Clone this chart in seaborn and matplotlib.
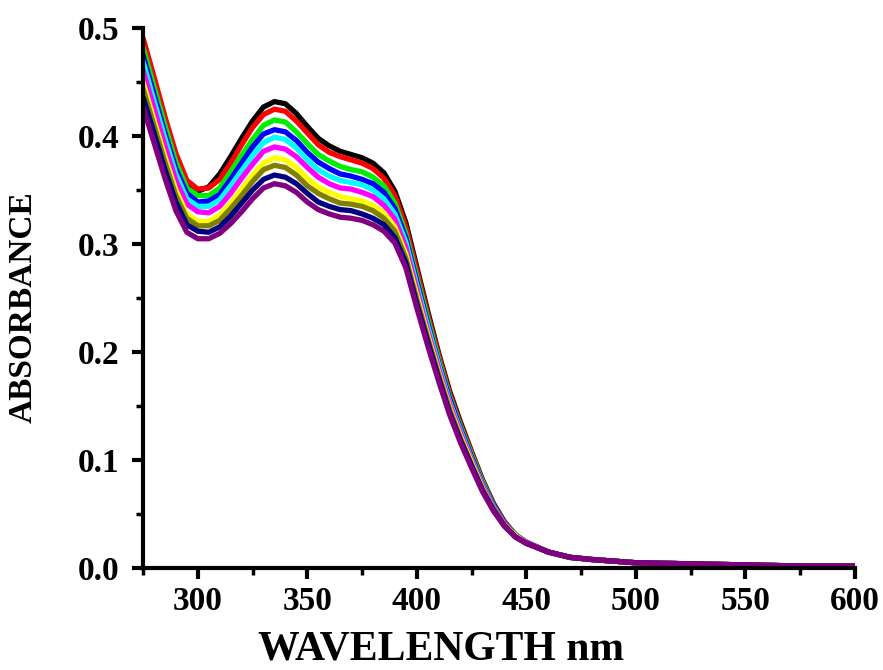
import numpy as np
import pandas as pd
import matplotlib
matplotlib.use("Agg")
import matplotlib.pyplot as plt
from matplotlib.ticker import MultipleLocator
import seaborn as sns

wavelength = [275, 280, 285, 290, 295, 300, 305, 310, 315, 320, 325, 330, 335, 340,
              345, 350, 355, 360, 365, 370, 375, 380, 385, 390, 395, 400, 405, 410,
              415, 420, 425, 430, 435, 440, 445, 450, 460, 470, 480, 500, 525, 550,
              575, 600]

tail = [0.015, 0.010, 0.008, 0.005, 0.004, 0.003, 0.002, 0.002]

s_black = [0.488, 0.452, 0.415, 0.381, 0.357, 0.349, 0.353, 0.365, 0.381, 0.398, 0.414, 0.427,
           0.432, 0.430, 0.421, 0.409, 0.398, 0.391, 0.386, 0.383, 0.380, 0.375, 0.366, 0.349,
           0.320, 0.279, 0.238, 0.199, 0.164, 0.135, 0.108, 0.082, 0.060, 0.043, 0.031, 0.024] + tail
s_red = [0.491, 0.455, 0.418, 0.384, 0.359, 0.351, 0.352, 0.360, 0.375, 0.392, 0.408, 0.420,
         0.425, 0.423, 0.414, 0.403, 0.392, 0.385, 0.381, 0.378, 0.375, 0.370, 0.361, 0.345,
         0.316, 0.276, 0.235, 0.197, 0.162, 0.133, 0.107, 0.081, 0.059, 0.043, 0.031, 0.024] + tail
s_green = [0.482, 0.446, 0.410, 0.376, 0.352, 0.345, 0.345, 0.352, 0.367, 0.382, 0.397, 0.410,
           0.415, 0.413, 0.404, 0.393, 0.383, 0.377, 0.372, 0.369, 0.367, 0.362, 0.354, 0.338,
           0.310, 0.270, 0.231, 0.193, 0.159, 0.131, 0.105, 0.080, 0.058, 0.042, 0.031, 0.024] + tail
s_blue = [0.475, 0.439, 0.403, 0.370, 0.347, 0.339, 0.340, 0.346, 0.360, 0.375, 0.390, 0.402,
          0.406, 0.404, 0.396, 0.385, 0.376, 0.370, 0.365, 0.363, 0.360, 0.356, 0.348, 0.333,
          0.306, 0.266, 0.227, 0.190, 0.157, 0.129, 0.103, 0.078, 0.058, 0.042, 0.030, 0.024] + tail
s_cyan = [0.469, 0.433, 0.398, 0.365, 0.342, 0.335, 0.335, 0.341, 0.354, 0.368, 0.382, 0.394,
          0.399, 0.397, 0.389, 0.378, 0.369, 0.363, 0.359, 0.357, 0.355, 0.350, 0.342, 0.328,
          0.302, 0.262, 0.224, 0.188, 0.154, 0.127, 0.101, 0.077, 0.057, 0.041, 0.030, 0.024] + tail
s_magenta = [0.461, 0.426, 0.391, 0.359, 0.337, 0.330, 0.329, 0.335, 0.347, 0.361, 0.374, 0.386,
             0.390, 0.388, 0.381, 0.371, 0.362, 0.356, 0.352, 0.351, 0.348, 0.344, 0.336, 0.323,
             0.297, 0.258, 0.220, 0.185, 0.152, 0.125, 0.100, 0.076, 0.056, 0.041, 0.030, 0.024] + tail
s_yellow = [0.450, 0.415, 0.381, 0.350, 0.328, 0.321, 0.321, 0.327, 0.338, 0.351, 0.364, 0.375,
            0.380, 0.378, 0.371, 0.361, 0.353, 0.348, 0.344, 0.342, 0.340, 0.336, 0.329, 0.316,
            0.291, 0.253, 0.216, 0.181, 0.149, 0.122, 0.098, 0.074, 0.055, 0.040, 0.030, 0.023] + tail
s_olive = [0.444, 0.410, 0.376, 0.345, 0.324, 0.317, 0.317, 0.322, 0.333, 0.345, 0.358, 0.369,
           0.373, 0.371, 0.364, 0.354, 0.347, 0.342, 0.338, 0.337, 0.335, 0.331, 0.324, 0.312,
           0.287, 0.249, 0.213, 0.179, 0.147, 0.120, 0.096, 0.073, 0.055, 0.040, 0.029, 0.023] + tail
s_navy = [0.436, 0.403, 0.369, 0.339, 0.318, 0.312, 0.311, 0.316, 0.326, 0.338, 0.350, 0.360,
          0.364, 0.362, 0.356, 0.347, 0.339, 0.335, 0.332, 0.331, 0.328, 0.324, 0.318, 0.306,
          0.283, 0.245, 0.210, 0.176, 0.144, 0.118, 0.095, 0.072, 0.054, 0.039, 0.029, 0.023] + tail
s_purple = [0.427, 0.394, 0.361, 0.331, 0.311, 0.305, 0.305, 0.310, 0.319, 0.330, 0.342, 0.352,
            0.356, 0.354, 0.348, 0.339, 0.332, 0.328, 0.325, 0.324, 0.322, 0.318, 0.312, 0.301,
            0.278, 0.241, 0.206, 0.173, 0.142, 0.116, 0.093, 0.071, 0.053, 0.039, 0.029, 0.023] + tail

series_names = ["black", "red", "green", "blue", "cyan", "magenta", "yellow", "olive", "navy", "purple"]
series_values = [s_black, s_red, s_green, s_blue, s_cyan, s_magenta, s_yellow, s_olive, s_navy, s_purple]
series_colors = ["#000000", "#ff0000", "#00ee00", "#0000ff", "#00ffff", "#ff00ff", "#ffff00",
                 "#808000", "#000080", "#800080"]

x_ticks = [300, 350, 400, 450, 500, 550, 600]
y_ticks = [0.0, 0.1, 0.2, 0.3, 0.4, 0.5]

rows = []
for name, vals in zip(series_names, series_values):
    for w, v in zip(wavelength, vals):
        rows.append({"wavelength": w, "absorbance": v, "series": name})
df = pd.DataFrame(rows)

sns.set_style("ticks")
plt.rcParams["font.family"] = ["Liberation Serif", "DejaVu Serif"]
plt.rcParams["font.weight"] = "bold"
for key in ["text.color", "axes.labelcolor", "xtick.color", "ytick.color", "axes.edgecolor"]:
    plt.rcParams[key] = "black"

fig = plt.figure(figsize=(8.83, 6.70), dpi=100)
ax = fig.add_axes([0.162, 0.152, 0.806, 0.806])

sns.lineplot(data=df, x="wavelength", y="absorbance", hue="series",
             hue_order=series_names, palette=dict(zip(series_names, series_colors)),
             sort=False, linewidth=3.8, legend=False, ax=ax)
for ln in ax.get_lines():
    ln.set_solid_joinstyle("round")
    ln.set_solid_capstyle("round")

ax.set_xlim(275, 600)
ax.set_ylim(0, 0.5)
ax.set_xticks(x_ticks)
ax.set_yticks(y_ticks)
ax.set_xticklabels([str(t) for t in x_ticks])
ax.set_yticklabels([f"{t:.1f}" for t in y_ticks])
ax.xaxis.set_minor_locator(MultipleLocator(25))
ax.yaxis.set_minor_locator(MultipleLocator(0.05))

sns.despine(ax=ax)
for sp in ["left", "bottom"]:
    ax.spines[sp].set_linewidth(3.0)
    ax.spines[sp].set_capstyle("projecting")

ax.tick_params(axis="both", which="major", direction="out", length=8, width=3.0,
               labelsize=24, pad=5, color="black")
ax.tick_params(axis="y", which="major", pad=9)
ax.tick_params(axis="both", which="minor", direction="out", length=5, width=2.5, color="black")
for lab in ax.get_xticklabels() + ax.get_yticklabels():
    lab.set_fontweight("bold")

ax.set_xlabel("WAVELENGTH nm", fontsize=30, fontweight="bold")
ax.set_ylabel("ABSORBANCE", fontsize=24, fontweight="bold")
ax.xaxis.label.set_verticalalignment("center")
ax.xaxis.set_label_coords(0.4185, -0.150)
ax.yaxis.label.set_verticalalignment("center")
ax.yaxis.set_label_coords(-0.168, 0.483)

fig.savefig("out.png", dpi=100)
